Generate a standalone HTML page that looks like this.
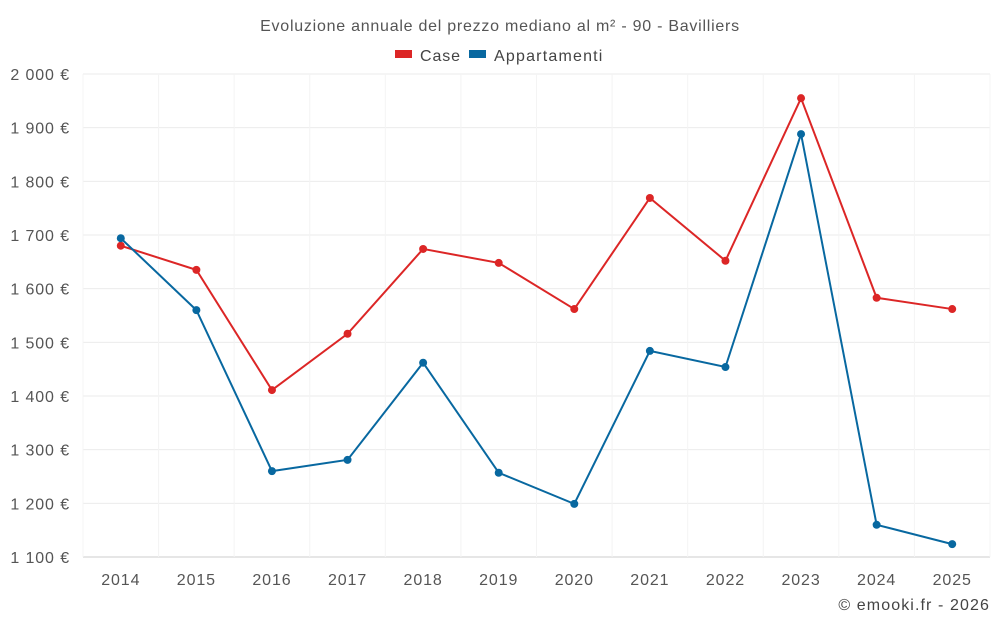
<!DOCTYPE html>
<html><head><meta charset="utf-8"><style>
body{margin:0;background:#fff;font-family:"Liberation Sans",Roboto,sans-serif;}
svg text{font-family:"Liberation Sans",sans-serif;letter-spacing:0.9px;}
</style></head><body>
<svg id="chart" width="1000" height="625">
<text x="500" y="31" text-anchor="middle" font-size="16" fill="#555" style="letter-spacing:0.75px">Evoluzione annuale del prezzo mediano al m² - 90 - Bavilliers</text>
<g>
<rect x="395" y="50" width="17" height="8" fill="#dc2626"/>
<text x="420" y="61" font-size="16" fill="#444">Case</text>
<rect x="469" y="50" width="17" height="8" fill="#0868a0"/>
<text x="494" y="61" font-size="16" fill="#444" style="letter-spacing:1.2px">Appartamenti</text>
</g>
<g id="grid"></g><g id="axes"></g><g id="series"></g>
<text x="990" y="610" text-anchor="end" font-size="16" fill="#444" style="letter-spacing:1.1px">© emooki.fr - 2026</text>
</svg>
<script>
const years=[2014,2015,2016,2017,2018,2019,2020,2021,2022,2023,2024,2025];
const caseValues=[1680,1635,1411,1516,1674,1648,1562,1769,1652,1955,1583,1562];
const apptValues=[1694,1560,1260,1281,1462,1257,1199,1484,1454,1888,1160,1124];
const yTicks=[1100,1200,1300,1400,1500,1600,1700,1800,1900,2000];
const NS="http://www.w3.org/2000/svg";
const L=83,R=990,T=74,B=557,yMin=1100,yMax=2000;
const step=(R-L)/years.length;
const x=i=>L+step*(i+0.5);
const y=v=>B-(v-yMin)/(yMax-yMin)*(B-T);
function mk(tag,attrs,parent){const e=document.createElementNS(NS,tag);for(const k in attrs)e.setAttribute(k,attrs[k]);parent.appendChild(e);return e;}
const grid=document.getElementById('grid'),axes=document.getElementById('axes'),ser=document.getElementById('series');
const fmt=v=>{const s=String(v);return s.slice(0,s.length-3)+' '+s.slice(-3)+' €';};
yTicks.forEach(v=>{
 const l=mk('line',{x1:L,x2:R,y1:y(v),y2:y(v),stroke:v===yMin?'#ccc':'#ebebeb'},grid);
 
 
 const t=mk('text',{x:70,y:y(v)+6,'text-anchor':'end','font-size':16,fill:'#555'},axes);
 t.textContent=fmt(v);
 
 
});
for(let i=0;i<=years.length;i++){
 const l=mk('line',{x1:L+step*i,x2:L+step*i,y1:T,y2:B,stroke:'#f4f4f4'},grid);
 
 
}
years.forEach((yr,i)=>{
 const t=mk('text',{x:x(i),y:585,'text-anchor':'middle','font-size':16,fill:'#555'},axes);
 t.textContent=yr;
 
 
});
function draw(vals,color,name){
 const p=mk('polyline',{points:vals.map((v,i)=>x(i)+','+y(v)).join(' '),fill:'none',stroke:color,'stroke-width':2},ser);
 
 
 vals.forEach((v,i)=>{
  const c=mk('circle',{cx:x(i),cy:y(v),r:4,fill:color},ser);
  
  
 });
}
draw(caseValues,'#dc2626','case');
draw(apptValues,'#0868a0','appartamenti');
</script>
</body></html>
